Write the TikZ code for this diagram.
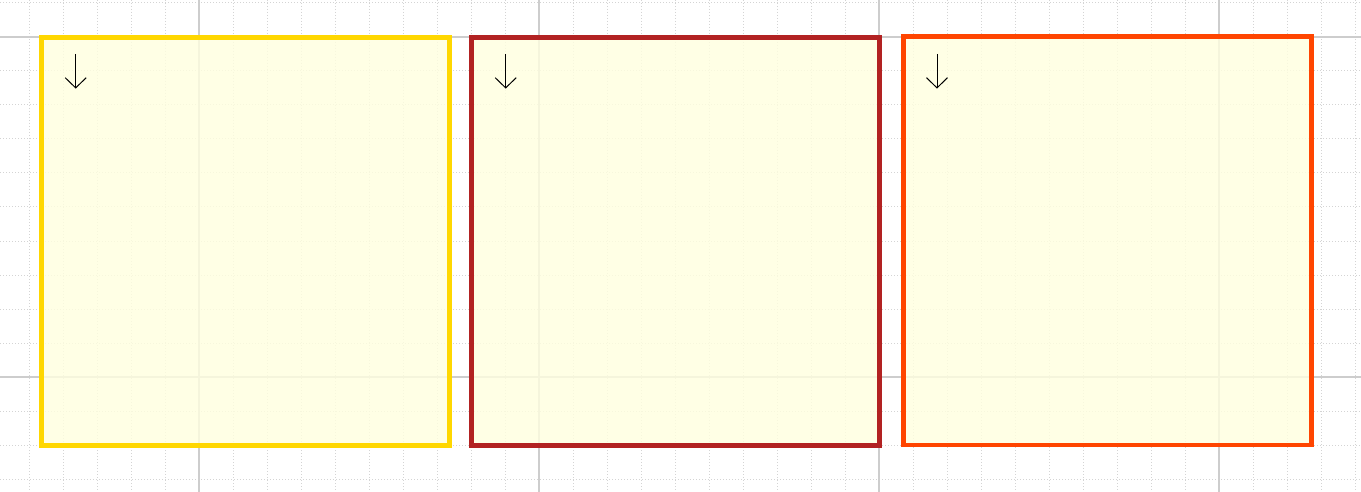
\documentclass[tikz,border=0pt]{standalone}
\usetikzlibrary{arrows.meta}
\definecolor{gridminor}{RGB}{212,212,212}
\definecolor{gridmajor}{RGB}{205,205,205}
\definecolor{boxfill}{RGB}{255,255,224}
\definecolor{cgold}{RGB}{255,215,0}
\definecolor{cbrick}{RGB}{178,34,34}
\definecolor{corange}{RGB}{255,69,0}
\tikzset{
  minorline/.style={gridminor,line width=1pt,dash pattern=on 1pt off 2pt},
  majorline/.style={gridmajor,line width=1.2pt},
  panel/.style={rectangle,draw,line width=4.8pt,fill=boxfill,fill opacity=0.82,
    minimum width=408pt,minimum height=408pt,inner sep=0pt},
  dirarrow/.style={black,line width=1pt,
    -{Straight Barb[length=10.2pt,width=21pt,line width=1pt]}}
}
\begin{document}
\begin{tikzpicture}[x=1pt,y=-1pt]
\useasboundingbox (0,0) rectangle (1361,492);
\fill[white] (0,0) rectangle (1361,492);
% minor grid
\foreach \i in {0,...,40} {
  \pgfmathsetmacro\xx{29+34*\i}
  \draw[minorline] (\xx,0) -- (\xx,492);
}
\foreach \j in {0,...,14} {
  \pgfmathsetmacro\yy{3+34*\j}
  \draw[minorline] (0,\yy) -- (1361,\yy);
}
% major grid
\foreach \xx in {199,539,879,1219} {
  \draw[majorline] (\xx,0) -- (\xx,492);
}
\foreach \yy in {37,377} {
  \draw[majorline] (0,\yy) -- (1361,\yy);
}
% panels
\node[panel,draw=cgold] (p1) at (245.5,241.25) {};
\node[panel,draw=cbrick] (p2) at (675.5,241.25) {};
\node[panel,draw=corange] (p3) at (1107.5,240.9) {};
% direction arrows
\coordinate (t1) at (75.7,54);  \coordinate (h1) at (75.7,88.6);
\coordinate (t2) at (505.7,54); \coordinate (h2) at (505.7,88.6);
\coordinate (t3) at (937,54);   \coordinate (h3) at (937,88.6);
\draw[dirarrow] (t1) -- (h1);
\draw[dirarrow] (t2) -- (h2);
\draw[dirarrow] (t3) -- (h3);
\end{tikzpicture}
\end{document}
